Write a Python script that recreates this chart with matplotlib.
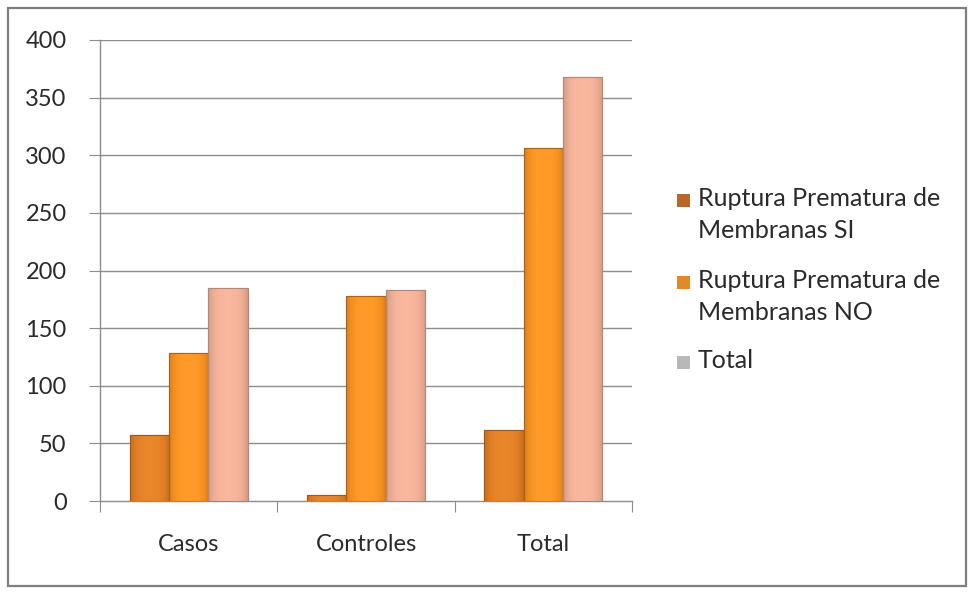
import matplotlib
matplotlib.use("Agg")
import matplotlib.pyplot as plt
import numpy as np
from matplotlib.patches import Rectangle
from matplotlib.colors import to_rgb

categories = ["Casos", "Controles", "Total"]
series_names = ["Ruptura Prematura de\nMembranas SI",
                "Ruptura Prematura de\nMembranas NO",
                "Total"]
rpm_si = [57, 5, 62]
rpm_no = [128, 178, 306]
total = [185, 183, 368]
y_ticks = [0, 50, 100, 150, 200, 250, 300, 350, 400]

colors = ["#E07C20", "#F6901E", "#EFAD93"]
edges = ["#9A5A1E", "#A8641E", "#B08A78"]
legend_colors = ["#B8662A", "#E08A2A", "#B8B8B8"]

plt.rcParams["font.family"] = ["Lato", "DejaVu Sans"]

W, H = 973, 594
fig = plt.figure(figsize=(W / 100, H / 100), dpi=100)
fig.patch.set_facecolor("white")

# outer chart frame
fig.add_artist(Rectangle((8 / W, 1 - 586 / H), (966 - 8) / W, (586 - 8) / H,
                         transform=fig.transFigure, fill=False,
                         edgecolor="#7f7f7f", linewidth=1.6))

x0, x1, ytop, ybot = 100, 632, 40, 501
ax = fig.add_axes([x0 / W, 1 - ybot / H, (x1 - x0) / W, (ybot - ytop) / H])
ax.set_xlim(0, 3)
ax.set_ylim(0, 400)

for yv in y_ticks[1:]:
    ax.axhline(yv, color="#8c8c8c", linewidth=1.0, zorder=0)


def shaded(c):
    """Small horizontal gradient: darker at the sides, lighter in the middle."""
    base = np.array(to_rgb(c))
    t = np.linspace(-1, 1, 64)
    f = 1 - 0.12 * t ** 4
    row = np.clip(base[None, :] * f[:, None] + 0.04 * (1 - t[:, None] ** 2), 0, 1)
    return row[None, :, :]


bw = 0.222
offsets = [-bw, 0, bw]
for i, vals in enumerate([rpm_si, rpm_no, total]):
    xs = np.arange(3) + 0.5 + offsets[i]
    bars = ax.bar(xs, vals, width=bw, color=colors[i], edgecolor=edges[i],
                  linewidth=0.8, zorder=3)
    for b in bars:
        bx, by = b.get_x(), b.get_y()
        bwid, bh = b.get_width(), b.get_height()
        im = ax.imshow(shaded(colors[i]), extent=(bx, bx + bwid, by, by + bh),
                       aspect="auto", zorder=3.5, interpolation="bilinear")
        im.set_clip_path(b)
        ax.add_patch(Rectangle((bx, by), bwid, bh, fill=False,
                               edgecolor=edges[i], linewidth=0.8, zorder=4))

for s in ["top", "right"]:
    ax.spines[s].set_visible(False)
for s in ["left", "bottom"]:
    ax.spines[s].set_color("#8c8c8c")
    ax.spines[s].set_linewidth(1.0)

ax.set_yticks(y_ticks)
ax.set_yticklabels([str(v) for v in y_ticks], fontsize=17, color="#2a2a2a")
ax.tick_params(axis="y", length=8, color="#8c8c8c", pad=16)

ax.set_xticks([0, 1, 2, 3])
ax.set_xticklabels([])
ax.tick_params(axis="x", length=8, color="#8c8c8c", direction="out")
for i, c in enumerate(categories):
    ax.text(i + 0.5, -38, c, ha="center", va="center", fontsize=17,
            color="#2a2a2a")

# legend drawn as squares plus text, first line aligned with the marker
legend_y = [200, 282, 362]
for name, lc, ly in zip(series_names, legend_colors, legend_y):
    fig.add_artist(Rectangle((677 / W, 1 - (ly + 7) / H), 13 / W, 13 / H,
                             transform=fig.transFigure, facecolor=lc,
                             edgecolor="none"))
    fig.text(698 / W, 1 - (ly - 13) / H, name, ha="left", va="top",
             fontsize=18, color="#2a2a2a", linespacing=1.45)

fig.savefig("out.png", dpi=100, facecolor="white")
